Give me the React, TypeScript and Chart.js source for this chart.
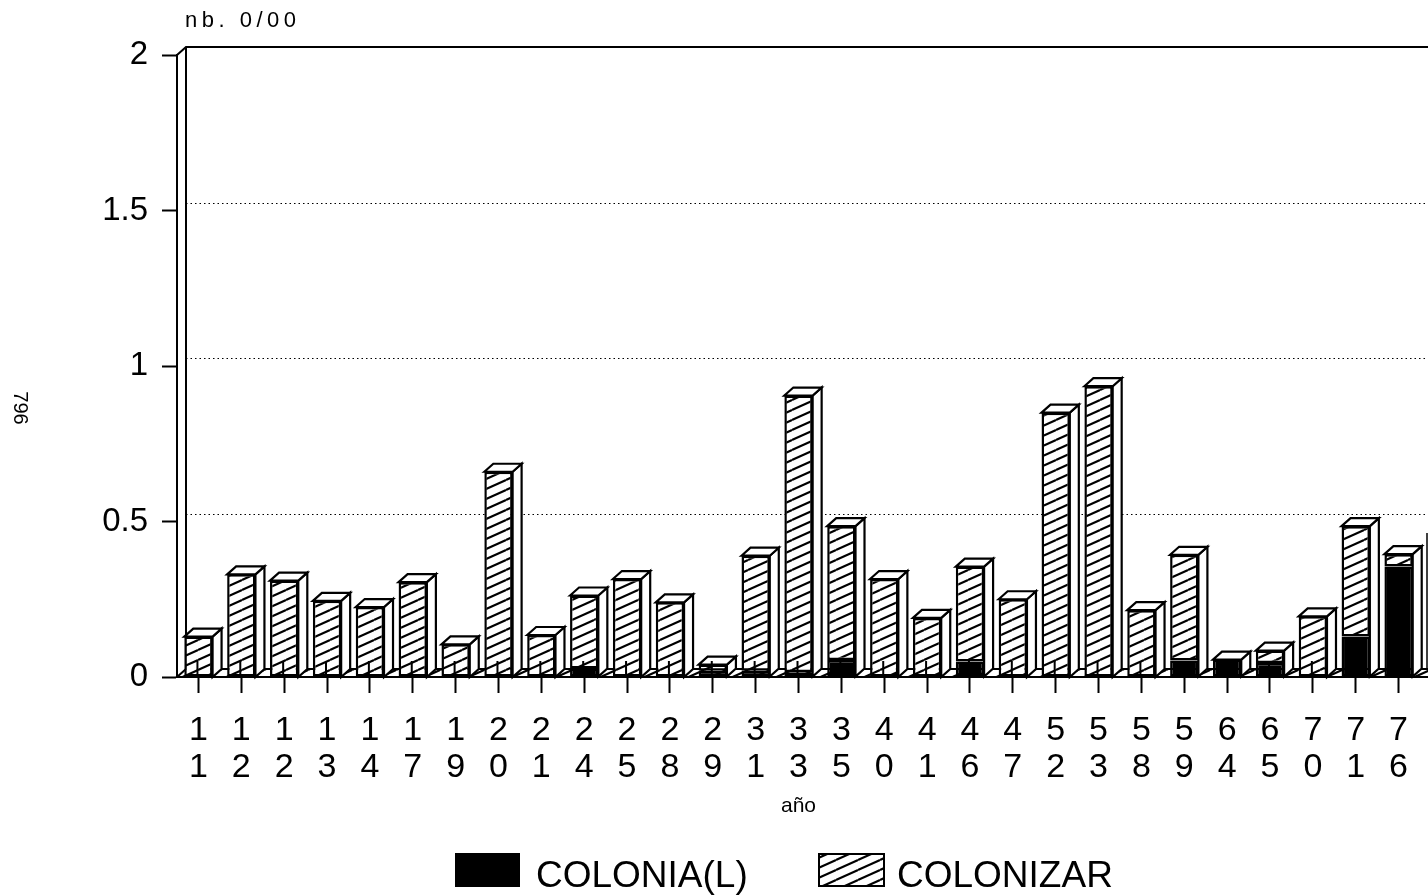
import React, { useEffect, useRef } from 'react';
import { Chart, registerables } from 'chart.js';

Chart.register(...registerables);

const categories = ['11', '12', '12', '13', '14', '17', '19', '20', '21', '24', '25', '28', '29', '31', '33', '35', '40', '41', '46', '47', '52', '53', '58', '59', '64', '65', '70', '71', '76'];
const coloniaL = [0, 0, 0, 0, 0, 0, 0, 0, 0, 0.027, 0, 0, 0.02, 0.02, 0.015, 0.055, 0, 0, 0.05, 0, 0, 0, 0, 0.053, 0.056, 0.045, 0, 0.13, 0.355];
const colonizar = [0.13, 0.33, 0.31, 0.245, 0.225, 0.305, 0.105, 0.66, 0.135, 0.235, 0.315, 0.24, 0.02, 0.37, 0.89, 0.43, 0.315, 0.19, 0.305, 0.25, 0.85, 0.935, 0.215, 0.34, 0, 0.04, 0.195, 0.355, 0.04];
const yTicks = [0, 0.5, 1, 1.5, 2];
const gridValues = [0.5, 1, 1.5];
const seriesNames = ['COLONIA(L)', 'COLONIZAR'];
const yUnitLabel = 'nb. 0/00';
const xTitle = 'año';
const pageNote = '796';

const FONT = "'Liberation Sans', Arial, Helvetica, sans-serif";
const DX = 9;
const DY = 8;

function makeHatch(): CanvasPattern | string {
  const w = 22;
  const h = 10;
  const c = document.createElement('canvas');
  c.width = w;
  c.height = h;
  const g = c.getContext('2d');
  if (!g) return '#fff';
  g.fillStyle = '#fff';
  g.fillRect(0, 0, w, h);
  g.strokeStyle = '#000';
  g.lineWidth = 2.1;
  for (const k of [-1, 0, 1]) {
    g.beginPath();
    g.moveTo(0, h + h * k);
    g.lineTo(w, h * k);
    g.stroke();
  }
  const p = g.createPattern(c, 'repeat');
  return p || '#fff';
}

export default function App() {
  const ref = useRef<HTMLCanvasElement | null>(null);

  useEffect(() => {
    const canvas = ref.current;
    if (!canvas) return;
    const hatch = makeHatch();

    const decor = {
      id: 'decor3d',
      beforeDatasetsDraw(chart: any) {
        const { ctx, chartArea: ca, scales } = chart;
        const y = scales.y;
        const W = chart.width;
        ctx.save();
        // floor
        ctx.beginPath();
        ctx.moveTo(ca.left, ca.bottom);
        ctx.lineTo(ca.left + DX, ca.bottom - DY);
        ctx.lineTo(W + 2, ca.bottom - DY);
        ctx.lineTo(W + 2, ca.bottom);
        ctx.closePath();
        ctx.fillStyle = hatch;
        ctx.fill();
        ctx.lineWidth = 2;
        ctx.strokeStyle = '#000';
        ctx.stroke();
        // dotted grid on back wall
        ctx.lineWidth = 1;
        ctx.setLineDash([1.5, 3]);
        for (const v of gridValues) {
          const py = Math.round(y.getPixelForValue(v) - DY) + 0.5;
          ctx.beginPath();
          ctx.moveTo(ca.left + DX, py);
          ctx.lineTo(W, py);
          ctx.stroke();
        }
        ctx.setLineDash([]);
        // back wall frame
        ctx.lineWidth = 2;
        ctx.beginPath();
        ctx.moveTo(ca.left, ca.top);
        ctx.lineTo(ca.left + DX, ca.top - DY);
        ctx.lineTo(W, ca.top - DY);
        ctx.moveTo(ca.left + DX, ca.top - DY);
        ctx.lineTo(ca.left + DX, ca.bottom - DY);
        ctx.stroke();
        // right wall fragment
        ctx.lineWidth = 1.5;
        ctx.beginPath();
        ctx.moveTo(W - 1, 533);
        ctx.lineTo(W - 1, ca.bottom - DY);
        ctx.stroke();
        ctx.restore();
      },
      afterDatasetsDraw(chart: any) {
        const { ctx, chartArea: ca } = chart;
        const m0 = chart.getDatasetMeta(0).data;
        const m1 = chart.getDatasetMeta(1).data;
        ctx.save();
        ctx.lineWidth = 2.2;
        ctx.strokeStyle = '#000';
        ctx.lineJoin = 'miter';
        for (let i = 0; i < m0.length; i++) {
          const b0 = m0[i];
          const b1 = m1[i];
          const half = b0.width / 2;
          const xl = b0.x - half;
          const xr = b0.x + half;
          const base = b0.base;
          const top = Math.min(b0.y, b1.y);
          // side face
          ctx.beginPath();
          ctx.moveTo(xr, top);
          ctx.lineTo(xr + DX, top - DY);
          ctx.lineTo(xr + DX, base - DY);
          ctx.lineTo(xr, base);
          ctx.closePath();
          ctx.fillStyle = '#fff';
          ctx.fill();
          ctx.stroke();
          // top cap
          ctx.beginPath();
          ctx.moveTo(xl, top);
          ctx.lineTo(xl + DX, top - DY);
          ctx.lineTo(xr + DX, top - DY);
          ctx.lineTo(xr, top);
          ctx.closePath();
          ctx.fill();
          ctx.stroke();
          // tick crossing upward into the bar
          ctx.lineWidth = 2;
          ctx.beginPath();
          ctx.moveTo(b0.x - 1, ca.bottom);
          ctx.lineTo(b0.x - 1, ca.bottom - 16);
          ctx.stroke();
          ctx.lineWidth = 2.2;
        }
        ctx.restore();
      },
      afterDraw(chart: any) {
        const { ctx } = chart;
        ctx.save();
        ctx.fillStyle = '#000';
        // unit label
        ctx.font = `22px ${FONT}`;
        ctx.textAlign = 'left';
        ctx.textBaseline = 'alphabetic';
        try { (ctx as any).letterSpacing = '4.5px'; } catch (e) {}
        ctx.fillText(yUnitLabel, 185, 27);
        try { (ctx as any).letterSpacing = '0px'; } catch (e) {}
        // page note rotated
        ctx.save();
        ctx.translate(20, 408);
        ctx.rotate(Math.PI / 2);
        ctx.font = `20px ${FONT}`;
        ctx.textAlign = 'center';
        ctx.textBaseline = 'middle';
        ctx.fillText(pageNote, 0, 0);
        ctx.restore();
        // legend
        ctx.lineWidth = 2;
        ctx.strokeStyle = '#000';
        ctx.fillStyle = '#000';
        ctx.fillRect(455, 853, 65, 34);
        ctx.font = `37px ${FONT}`;
        ctx.textAlign = 'left';
        ctx.textBaseline = 'alphabetic';
        ctx.fillText(seriesNames[0], 536, 887);
        ctx.fillStyle = hatch;
        ctx.fillRect(819, 854, 65, 32);
        ctx.strokeRect(819, 854, 65, 32);
        ctx.fillStyle = '#000';
        ctx.fillText(seriesNames[1], 897, 887);
        ctx.restore();
      },
    };

    const chart = new Chart(canvas, {
      type: 'bar',
      data: {
        labels: categories.map((c) => c.split('')),
        datasets: [
          {
            label: seriesNames[0],
            data: coloniaL,
            backgroundColor: '#000',
            borderColor: '#000',
            borderWidth: 2.5,
            borderSkipped: false,
            stack: 's',
            barPercentage: 0.66,
            categoryPercentage: 1,
          },
          {
            label: seriesNames[1],
            data: colonizar,
            backgroundColor: hatch as any,
            borderColor: '#000',
            borderWidth: 2.5,
            borderSkipped: false,
            stack: 's',
            barPercentage: 0.66,
            categoryPercentage: 1,
          },
        ],
      },
      options: {
        responsive: false,
        animation: false,
        devicePixelRatio: 1,
        layout: { padding: { top: 55, left: 0, right: 8, bottom: 0 } },
        plugins: {
          legend: { display: false },
          tooltip: { enabled: false },
          title: { display: false },
        },
        scales: {
          x: {
            type: 'category',
            stacked: true,
            offset: true,
            afterFit: (s: any) => { s.height = 219; },
            grid: {
              display: true,
              drawOnChartArea: false,
              drawTicks: true,
              tickLength: 16,
              tickColor: '#000',
              tickWidth: 2,
              offset: false,
            },
            border: { display: true, color: '#000', width: 2 },
            ticks: {
              color: '#000',
              font: { family: FONT, size: 34, lineHeight: 1.09 },
              padding: 19,
              maxRotation: 0,
              minRotation: 0,
              autoSkip: false,
            },
            title: {
              display: true,
              text: xTitle,
              color: '#000',
              font: { family: FONT, size: 21 },
              padding: { top: 0, bottom: 77 },
            },
          },
          y: {
            stacked: true,
            min: 0,
            max: 2,
            afterFit: (s: any) => { s.width = 177; },
            afterBuildTicks: (s: any) => { s.ticks = yTicks.map((v) => ({ value: v })); },
            grid: {
              display: true,
              drawOnChartArea: false,
              drawTicks: true,
              tickLength: 15,
              tickColor: '#000',
              tickWidth: 2,
            },
            border: { display: true, color: '#000', width: 2 },
            ticks: {
              color: '#000',
              font: { family: FONT, size: 33 },
              padding: 14,
              callback: (v: any) => String(v),
            },
          },
        },
      },
      plugins: [decor],
    });
    return () => chart.destroy();
  }, []);

  return (
    <div style={{ position: 'absolute', left: 0, top: 0, width: 1428, height: 896, background: '#fff' }}>
      <canvas ref={ref} width={1428} height={896} style={{ display: 'block' }} />
    </div>
  );
}
